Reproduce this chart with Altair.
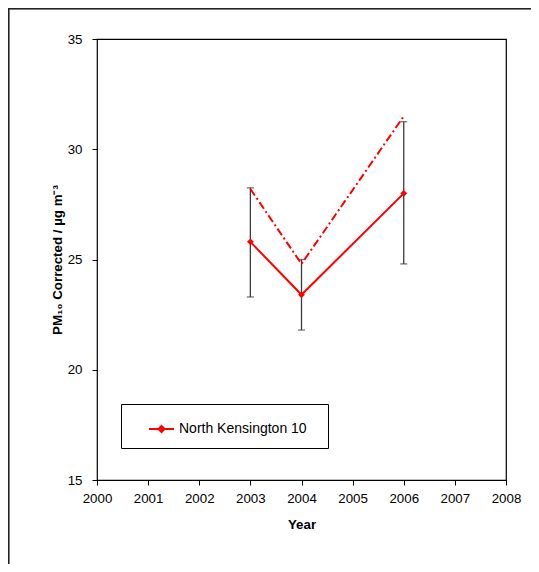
import altair as alt
import pandas as pd

# ---- data ----
years = [2003, 2004, 2006]
pm10_corrected = [25.8, 23.4, 28.0]
err_low = [23.3, 21.8, 24.8]
err_high = [28.25, 25.0, 31.25]
dashed_values = [28.2, 24.8, 31.5]
series_name = "North Kensington 10"

x_ticks = [2000, 2001, 2002, 2003, 2004, 2005, 2006, 2007, 2008]
y_ticks = [15, 20, 25, 30, 35]

df = pd.DataFrame({
    "year": years,
    "value": pm10_corrected,
    "lo": err_low,
    "hi": err_high,
    "dash": dashed_values,
    "series": [series_name] * len(years),
})

FONT = "Liberation Sans"
RED = "#ff0000"

x_enc = alt.X("year:Q",
              scale=alt.Scale(domain=[2000, 2008], nice=False, zero=False),
              axis=alt.Axis(values=x_ticks, format="d", title="Year",
                            titlePadding=13, labelFlush=False,
                            labelOverlap=False))
y_scale = alt.Scale(domain=[15, 35], nice=False, zero=False)
y_axis = alt.Axis(values=y_ticks, title="PM₁₀ Corrected / µg m⁻³",
                  titlePadding=3, labelPadding=10, labelFlush=False,
                  labelOverlap=False)

base = alt.Chart(df)

err_rule = base.mark_rule(color="#3a3a3a", strokeWidth=1.3).encode(
    x=x_enc,
    y=alt.Y("lo:Q", scale=y_scale, axis=y_axis),
    y2="hi:Q",
)
cap_lo = base.mark_tick(color="#3a3a3a", orient="horizontal", size=7,
                        thickness=1.3).encode(
    x="year:Q", y=alt.Y("lo:Q", scale=y_scale))
cap_hi = base.mark_tick(color="#3a3a3a", orient="horizontal", size=7,
                        thickness=1.3).encode(
    x="year:Q", y=alt.Y("hi:Q", scale=y_scale))

dashed = base.mark_line(color=RED, strokeWidth=2,
                        strokeDash=[8, 3, 2, 3]).encode(
    x="year:Q", y=alt.Y("dash:Q", scale=y_scale))

solid = base.mark_line(
    strokeWidth=2,
    point=alt.OverlayMarkDef(shape="diamond", filled=True, size=45),
).encode(
    x="year:Q",
    y=alt.Y("value:Q", scale=y_scale),
    color=alt.Color("series:N", scale=alt.Scale(range=[RED]),
                    legend=alt.Legend(title="\u00a0", titleOrient="right",
                                      titlePadding=10, titleFontSize=14)),
)

frame_left = alt.Chart(df).mark_rule(color="#222", strokeWidth=1.5).encode(
    x=alt.value(-88.5), y=alt.value(-30.5), y2=alt.value(600))
frame_top = alt.Chart(df).mark_rule(color="#222", strokeWidth=1.5).encode(
    x=alt.value(-88.5), x2=alt.value(600), y=alt.value(-30.5))

chart = alt.layer(
    frame_left, frame_top, err_rule, cap_lo, cap_hi, dashed, solid
).properties(
    width=409, height=441,
    autosize=alt.AutoSizeParams(type="none"),
    padding={"left": 89, "top": 31, "right": 25, "bottom": 84},
).configure(
    font=FONT,
).configure_view(
    stroke="#000", strokeWidth=1.2,
).configure_axis(
    grid=False, domain=False,
    tickColor="#000", tickSize=5, tickWidth=1,
    labelFont=FONT, labelFontSize=13.3, labelColor="#000",
    titleFont=FONT, titleFontSize=13.3, titleFontWeight="bold",
    titleColor="#000",
).configure_axisX(
    labelPadding=6,
).configure_legend(
    orient="none", legendX=24, legendY=365,
    padding=11.5, strokeColor="#000", fillColor="#fff",
    symbolType="M-1,0L1,0M0,-0.24L0.24,0L0,0.24L-0.24,0Z",
    symbolSize=625, symbolStrokeWidth=2,
    symbolFillColor=RED, symbolStrokeColor=RED,
    symbolOffset=15.5, labelOffset=4,
    labelFont=FONT, labelFontSize=14, labelColor="#000",
    labelLimit=300,
)

chart.save("out.html", embed_options={"renderer": "svg", "actions": False})
